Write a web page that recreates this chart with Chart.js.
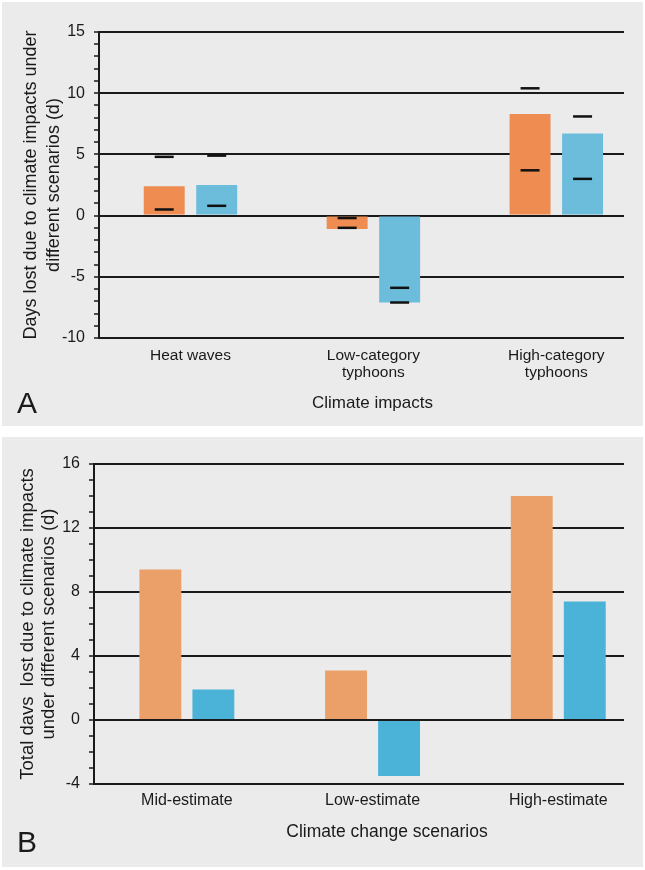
<!DOCTYPE html>
<html>
<head>
<meta charset="utf-8">
<script src="https://cdn.jsdelivr.net/npm/chart.js@4.4.1/dist/chart.umd.min.js"></script>
<style>
  html, body { margin: 0; padding: 0; background: #fff; }
  body { width: 645px; height: 870px; position: relative; overflow: hidden; }
  .panel { position: absolute; left: 2px; width: 641px; background: #ebebeb; }
  #panelA { top: 2px; height: 424px; }
  #panelB { top: 437px; height: 430px; }
</style>
</head>
<body>
<div class="panel" id="panelA"><canvas id="chartA"></canvas></div>
<div class="panel" id="panelB"><canvas id="chartB"></canvas></div>
<script>
// ---- Panel A: days lost per climate impact
const impactLabels = [['Heat waves'], ['Low-category', 'typhoons'], ['High-category', 'typhoons']];
const impactOrange = [2.4, -1.1, 8.3];
const impactBlue = [2.5, -7.1, 6.7];
const impactOrangeRange = [[0.5, 4.8], [-0.2, -1.0], [3.7, 10.4]];
const impactBlueRange = [[0.8, 4.9], [-5.9, -7.1], [3.0, 8.1]];
const impactTicks = [-10, -5, 0, 5, 10, 15];

// ---- Panel B: total days lost per scenario
const scenarioLabels = ['Mid-estimate', 'Low-estimate', 'High-estimate'];
const totalOrange = [9.4, 3.1, 14.0];
const totalBlue = [1.9, -3.5, 7.4];
const totalTicks = [-4, 0, 4, 8, 12, 16];

const FONT = '"Liberation Sans", Arial, Helvetica, sans-serif';
const INK = '#1a1a1a';
Chart.defaults.font.family = FONT;
Chart.defaults.color = INK;

// short black bars for the low / high range on each bar
const rangeMarks = {
    id: 'rangeMarks',
    afterDatasetsDraw(chart, args, opts) {
        if (!opts.ranges) return;
        const ctx = chart.ctx, y = chart.scales.y;
        ctx.save();
        ctx.strokeStyle = '#111';
        ctx.lineWidth = 2.5;
        opts.ranges.forEach((rng, d) => {
            chart.getDatasetMeta(d).data.forEach((bar, i) => {
                rng[i].forEach(v => {
                    const py = y.getPixelForValue(v);
                    ctx.beginPath();
                    ctx.moveTo(bar.x - 9.5, py);
                    ctx.lineTo(bar.x + 9.5, py);
                    ctx.stroke();
                });
            });
        });
        ctx.restore();
    }
};

// x-axis title + panel letter
const panelText = {
    id: 'panelText',
    afterDraw(chart, args, o) {
        const ctx = chart.ctx, a = chart.chartArea;
        ctx.save();
        ctx.fillStyle = INK;
        ctx.font = o.titleSize + 'px ' + FONT;
        ctx.textAlign = 'center';
        ctx.textBaseline = 'middle';
        ctx.fillText(o.title, (a.left + a.right) / 2 + o.titleDx, o.titleY);
        ctx.font = '30px ' + FONT;
        ctx.textAlign = 'left';
        ctx.textBaseline = 'alphabetic';
        ctx.fillText(o.letter, 15, o.letterY);
        ctx.restore();
    }
};

function makePanel(id, c) {
    const major = c.ticks;
    return new Chart(document.getElementById(id), {
        type: 'bar',
        data: {
            datasets: [
                { data: c.orange.map((v, i) => ({ x: i, y: v })), backgroundColor: c.colors[0] },
                { data: c.blue.map((v, i) => ({ x: i, y: v })), backgroundColor: c.colors[1] }
            ]
        },
        options: {
            responsive: true, maintainAspectRatio: false, animation: false,
            categoryPercentage: c.catPct, barPercentage: c.barPct,
            layout: { padding: { left: 0, top: c.top, right: 19, bottom: 0 } },
            plugins: {
                legend: { display: false }, tooltip: { enabled: false },
                rangeMarks: { ranges: c.ranges },
                panelText: { title: c.xTitle, titleSize: c.xTitleSize, titleDx: c.titleDx, titleY: c.titleY, letter: c.letter, letterY: c.letterY }
            },
            scales: {
                x: {
                    type: 'linear', min: -0.5, max: c.xMax, offset: false,
                    grid: { display: false, drawTicks: false, tickLength: 0, offset: false },
                    border: { display: false },
                    afterBuildTicks: s => { s.ticks = c.labels.map((_, i) => ({ value: i })); },
                    afterFit: s => { s.height = c.xHeight; },
                    ticks: {
                        autoSkip: false, maxRotation: 0, padding: c.catPad,
                        font: { size: c.catSize, lineHeight: c.catLH },
                        callback: v => c.labels[v]
                    }
                },
                y: {
                    min: major[0], max: major[major.length - 1],
                    afterFit: s => { s.width = c.yWidth; },
                    border: { display: true, color: INK, width: 2 },
                    grid: {
                        color: ctx => major.includes(ctx.tick.value) ? INK : 'rgba(0,0,0,0)',
                        lineWidth: 2, tickColor: INK, tickLength: 5, tickWidth: 1.5
                    },
                    ticks: {
                        stepSize: 1, autoSkip: false, padding: 9, font: { size: 16 },
                        callback: v => major.includes(v) ? String(v) : ''
                    },
                    title: {
                        display: true, text: c.yTitle,
                        font: { size: c.yTitleSize, lineHeight: c.yTitleLH },
                        padding: { top: c.yTitlePad, bottom: 0 }
                    }
                }
            }
        },
        plugins: [rangeMarks, panelText]
    });
}

makePanel('chartA', {
    labels: impactLabels, orange: impactOrange, blue: impactBlue, ticks: impactTicks,
    ranges: [impactOrangeRange, impactBlueRange],
    colors: ['#EE8C52', '#6CBCDB'],
    catPct: 0.574, barPct: 0.78, xMax: 2.37,
    top: 30, xHeight: 88, yWidth: 97,
    catSize: 15.5, catLH: 1.1, catPad: 9,
    yTitle: ['Days lost due to climate impacts under', 'different scenarios (d)'],
    yTitleSize: 18, yTitleLH: 1.3, yTitlePad: 17,
    xTitle: 'Climate impacts', xTitleSize: 17, titleDx: 11, titleY: 401,
    letter: 'A', letterY: 411
});

makePanel('chartB', {
    labels: scenarioLabels, orange: totalOrange, blue: totalBlue, ticks: totalTicks,
    ranges: null,
    colors: ['#EBA06A', '#4BB2D8'],
    catPct: 0.571, barPct: 0.79, xMax: 2.354,
    top: 27, xHeight: 83, yWidth: 92,
    catSize: 16, catLH: 1.1, catPad: 8,
    yTitle: ['Total davs  lost due to climate impacts', 'under different scenarios (d)'],
    yTitleSize: 18.5, yTitleLH: 1.16, yTitlePad: 15,
    xTitle: 'Climate change scenarios', xTitleSize: 17.5, titleDx: 28, titleY: 395,
    letter: 'B', letterY: 415
});
</script>
</body>
</html>
